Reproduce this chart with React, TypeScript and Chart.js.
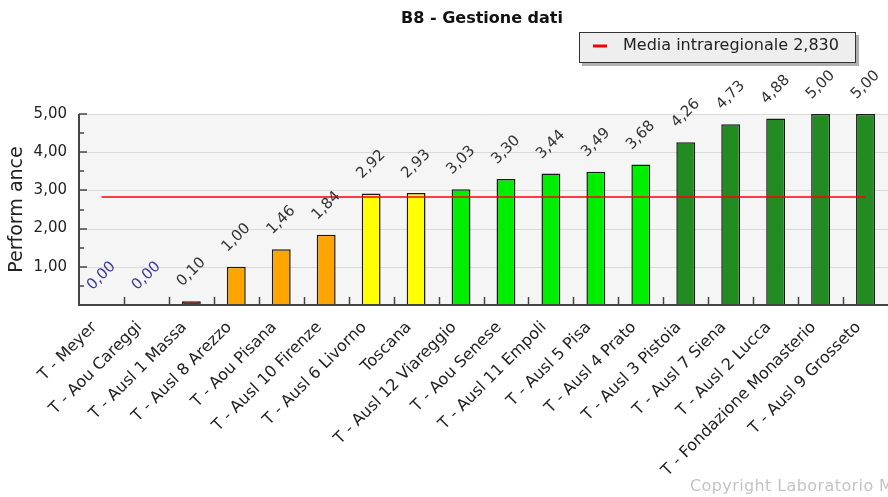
import React, { useEffect, useRef } from "react";
import { Chart, registerables } from "chart.js";

Chart.register(...registerables);

const categories = [
  "T - Meyer",
  "T - Aou Careggi",
  "T - Ausl 1 Massa",
  "T - Ausl 8 Arezzo",
  "T - Aou Pisana",
  "T - Ausl 10 Firenze",
  "T - Ausl 6 Livorno",
  "Toscana",
  "T - Ausl 12 Viareggio",
  "T - Aou Senese",
  "T - Ausl 11 Empoli",
  "T - Ausl 5 Pisa",
  "T - Ausl 4 Prato",
  "T - Ausl 3 Pistoia",
  "T - Ausl 7 Siena",
  "T - Ausl 2 Lucca",
  "T - Fondazione Monasterio",
  "T - Ausl 9 Grosseto",
];

const values = [0, 0, 0.1, 1.0, 1.46, 1.84, 2.92, 2.93, 3.03, 3.3, 3.44, 3.49, 3.68, 4.26, 4.73, 4.88, 5.0, 5.0];

const barColors = [
  "#d40000", "#d40000", "#d40000",
  "#ffa500", "#ffa500", "#ffa500",
  "#ffff00", "#ffff00",
  "#00ee00", "#00ee00", "#00ee00", "#00ee00", "#00ee00",
  "#228b22", "#228b22", "#228b22", "#228b22", "#228b22",
];

const mediaValue = 2.83;
const mediaLabel = "Media intraregionale 2,830";
const titleText = "B8 - Gestione dati";
const yAxisTitle = "Perform ance";
const copyrightText = "Copyright Laboratorio MeS";

const fmt = (v: number) => v.toFixed(2).replace(".", ",");

const FONT = "'DejaVu Sans', Verdana, sans-serif";

const decorPlugin = {
  id: "decor",
  beforeDatasetsDraw(chart: any) {
    const { ctx, chartArea } = chart;
    ctx.save();
    ctx.fillStyle = "#f5f5f5";
    ctx.fillRect(chartArea.left, chartArea.top, chartArea.right - chartArea.left, chartArea.bottom - chartArea.top);
    const y = chart.scales.y;
    ctx.strokeStyle = "#dadada";
    ctx.lineWidth = 1;
    for (let v = 1; v <= 5; v++) {
      const py = Math.round(y.getPixelForValue(v)) + 0.5;
      ctx.beginPath();
      ctx.moveTo(chartArea.left, py);
      ctx.lineTo(chartArea.right, py);
      ctx.stroke();
    }
    ctx.restore();
  },
  afterDatasetsDraw(chart: any) {
    const { ctx, chartArea } = chart;
    const x = chart.scales.x;
    const y = chart.scales.y;
    ctx.save();
    ctx.strokeStyle = "#444";
    ctx.lineWidth = 2;
    ctx.beginPath();
    ctx.moveTo(chartArea.left, chartArea.top);
    ctx.lineTo(chartArea.left, chartArea.bottom);
    ctx.lineTo(chartArea.right, chartArea.bottom);
    ctx.stroke();
    ctx.lineWidth = 1.5;
    for (let v = 0.5; v <= 5; v += 0.5) {
      const py = Math.round(y.getPixelForValue(v));
      const len = Math.abs(v - Math.round(v)) < 1e-6 ? 8 : 5;
      ctx.beginPath();
      ctx.moveTo(chartArea.left, py);
      ctx.lineTo(chartArea.left + len, py);
      ctx.stroke();
    }
    for (let i = 1; i < categories.length; i++) {
      const px = Math.round((x.getPixelForValue(i - 1) + x.getPixelForValue(i)) / 2) + 0.5;
      ctx.beginPath();
      ctx.moveTo(px, chartArea.bottom);
      ctx.lineTo(px, chartArea.bottom - 8);
      ctx.stroke();
    }
    const meta = chart.getDatasetMeta(0);
    ctx.font = `15px ${FONT}`;
    ctx.textAlign = "center";
    ctx.textBaseline = "middle";
    meta.data.forEach((bar: any, i: number) => {
      const v = values[i];
      ctx.save();
      ctx.translate(bar.x, bar.y - 29);
      ctx.rotate(-Math.PI / 4);
      ctx.fillStyle = v === 0 ? "#3a3aa8" : "#333";
      ctx.fillText(fmt(v), 0, 0);
      ctx.restore();
    });
    ctx.restore();
  },
  afterDraw(chart: any) {
    const { ctx } = chart;
    ctx.save();
    ctx.font = `bold 16px ${FONT}`;
    ctx.fillStyle = "#111";
    ctx.textAlign = "center";
    ctx.textBaseline = "middle";
    ctx.fillText(titleText, 482, 19);
    const lx = 579, ly = 32, lw = 277, lh = 31;
    ctx.fillStyle = "#b0b0b0";
    ctx.fillRect(lx + 3, ly + 3, lw, lh);
    ctx.fillStyle = "#eeeeee";
    ctx.fillRect(lx, ly, lw, lh);
    ctx.strokeStyle = "#333";
    ctx.lineWidth = 1;
    ctx.strokeRect(lx + 0.5, ly + 0.5, lw - 1, lh - 1);
    ctx.strokeStyle = "#ff0000";
    ctx.lineWidth = 3;
    ctx.beginPath();
    ctx.moveTo(593, 46);
    ctx.lineTo(607, 46);
    ctx.stroke();
    ctx.fillStyle = "#222";
    ctx.font = `16px ${FONT}`;
    ctx.textAlign = "left";
    ctx.fillText(mediaLabel, 623, 46);
    ctx.font = `16px ${FONT}`;
    try { (ctx as any).letterSpacing = "0.4px"; } catch (e) {}
    ctx.fillStyle = "#c4c4c4";
    ctx.textBaseline = "alphabetic";
    ctx.fillText(copyrightText, 690, 491);
    ctx.restore();
  },
};

export default function App() {
  const ref = useRef<HTMLCanvasElement>(null);
  useEffect(() => {
    document.body.style.margin = "0";
    const canvas = ref.current!;
    const chart = new Chart(canvas, {
      type: "bar",
      data: {
        labels: categories,
        datasets: [
          {
            type: "bar",
            data: values,
            backgroundColor: barColors,
            borderColor: "#1a1a1a",
            borderWidth: 1.5,
            barPercentage: 0.42,
            categoryPercentage: 1,
            order: 2,
          },
          {
            type: "line",
            data: values.map(() => mediaValue),
            borderColor: "#ff0000",
            borderWidth: 1.5,
            pointRadius: 0,
            order: 1,
          } as any,
        ],
      },
      plugins: [decorPlugin],
      options: {
        responsive: false,
        animation: false,
        layout: { padding: { top: 114, right: 0, left: 0, bottom: 0 } },
        plugins: {
          legend: { display: false },
          title: { display: false },
          tooltip: { enabled: false },
        },
        scales: {
          x: {
            grid: { display: false, drawTicks: false },
            border: { display: false },
            ticks: {
              autoSkip: false,
              maxRotation: 45,
              minRotation: 45,
              padding: 13,
              labelOffset: -7,
              color: "#222",
              font: { family: FONT, size: 16 },
            },
            afterFit: (s: any) => {
              s.height = 192;
              s.paddingLeft = 0;
              s.paddingRight = 0;
            },
          },
          y: {
            min: 0,
            max: 5,
            grid: { display: false, drawTicks: false },
            border: { display: false },
            ticks: {
              stepSize: 1,
              padding: 12,
              color: "#222",
              font: { family: FONT, size: 15 },
              callback: (v: any) => (Number(v) === 0 ? "" : fmt(Number(v))),
            },
            title: {
              display: true,
              text: yAxisTitle,
              color: "#222",
              font: { family: FONT, size: 19 },
              padding: { top: 6, bottom: 0 },
            },
            afterFit: (s: any) => {
              s.width = 79;
              s.paddingTop = 0;
              s.paddingBottom = 0;
            },
          },
        },
      },
    });
    return () => chart.destroy();
  }, []);
  return (
    <div style={{ width: 888, height: 497, overflow: "hidden", background: "#fff" }}>
      <canvas ref={ref} width={888} height={497} />
    </div>
  );
}
